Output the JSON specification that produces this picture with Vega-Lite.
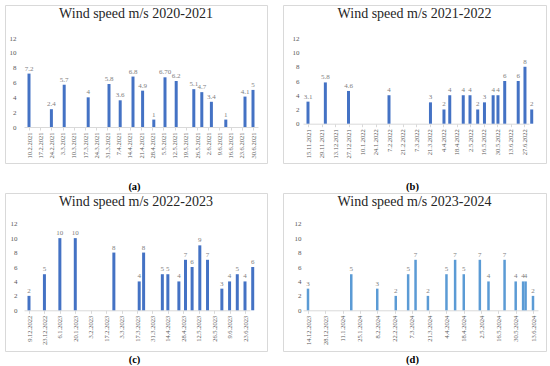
{
  "$schema": "https://vega.github.io/schema/vega-lite/v6.json",
  "padding": {"left": 4, "top": 4, "right": 0, "bottom": 0},
  "background": "white",
  "datasets": {
    "a": [
      {"date": "2021-02-10", "v": 7.2, "label": "7.2"},
      {"date": "2021-02-24", "v": 2.4, "label": "2.4"},
      {"date": "2021-03-04", "v": 5.7, "label": "5.7"},
      {"date": "2021-03-19", "v": 4, "label": "4"},
      {"date": "2021-04-01", "v": 5.8, "label": "5.8"},
      {"date": "2021-04-08", "v": 3.6, "label": "3.6"},
      {"date": "2021-04-16", "v": 6.8, "label": "6.8"},
      {"date": "2021-04-22", "v": 4.9, "label": "4.9"},
      {"date": "2021-04-29", "v": 1, "label": "1"},
      {"date": "2021-05-06", "v": 6.7, "label": "6.70"},
      {"date": "2021-05-13", "v": 6.2, "label": "6.2"},
      {"date": "2021-05-24", "v": 5.1, "label": "5.1"},
      {"date": "2021-05-29", "v": 4.7, "label": "4.7"},
      {"date": "2021-06-04", "v": 3.4, "label": "3.4"},
      {"date": "2021-06-13", "v": 1, "label": "1"},
      {"date": "2021-06-25", "v": 4.1, "label": "4.1"},
      {"date": "2021-06-30", "v": 5, "label": "5"}
    ],
    "b": [
      {"date": "2021-11-15", "v": 3.1, "label": "3.1"},
      {"date": "2021-12-03", "v": 5.8, "label": "5.8"},
      {"date": "2021-12-27", "v": 4.6, "label": "4.6"},
      {"date": "2022-02-07", "v": 4, "label": "4"},
      {"date": "2022-03-22", "v": 3, "label": "3"},
      {"date": "2022-04-05", "v": 2, "label": "2"},
      {"date": "2022-04-11", "v": 4, "label": "4"},
      {"date": "2022-04-25", "v": 4, "label": "4"},
      {"date": "2022-05-02", "v": 4, "label": "4"},
      {"date": "2022-05-10", "v": 2, "label": "2"},
      {"date": "2022-05-17", "v": 3, "label": "3"},
      {"date": "2022-05-26", "v": 4, "label": "4"},
      {"date": "2022-05-31", "v": 4, "label": "4"},
      {"date": "2022-06-07", "v": 6, "label": "6"},
      {"date": "2022-06-21", "v": 6, "label": "6"},
      {"date": "2022-06-28", "v": 8, "label": "8"},
      {"date": "2022-07-05", "v": 2, "label": "2"}
    ],
    "c": [
      {"date": "2022-12-09", "v": 2, "label": "2"},
      {"date": "2022-12-23", "v": 5, "label": "5"},
      {"date": "2023-01-06", "v": 10, "label": "10"},
      {"date": "2023-01-20", "v": 10, "label": "10"},
      {"date": "2023-02-24", "v": 8, "label": "8"},
      {"date": "2023-03-19", "v": 4, "label": "4"},
      {"date": "2023-03-23", "v": 8, "label": "8"},
      {"date": "2023-04-09", "v": 5, "label": "5"},
      {"date": "2023-04-14", "v": 5, "label": "5"},
      {"date": "2023-04-24", "v": 4, "label": "4"},
      {"date": "2023-04-30", "v": 7, "label": "7"},
      {"date": "2023-05-06", "v": 6, "label": "6"},
      {"date": "2023-05-13", "v": 9, "label": "9"},
      {"date": "2023-05-20", "v": 7, "label": "7"},
      {"date": "2023-06-02", "v": 3, "label": "3"},
      {"date": "2023-06-09", "v": 4, "label": "4"},
      {"date": "2023-06-16", "v": 5, "label": "5"},
      {"date": "2023-06-23", "v": 4, "label": "4"},
      {"date": "2023-06-30", "v": 6, "label": "6"}
    ],
    "d": [
      {"date": "2023-12-14", "v": 3, "label": "3"},
      {"date": "2024-01-18", "v": 5, "label": "5"},
      {"date": "2024-02-08", "v": 3, "label": "3"},
      {"date": "2024-02-23", "v": 2, "label": "2"},
      {"date": "2024-03-04", "v": 5, "label": "5"},
      {"date": "2024-03-10", "v": 7, "label": "7"},
      {"date": "2024-03-20", "v": 2, "label": "2"},
      {"date": "2024-04-04", "v": 5, "label": "5"},
      {"date": "2024-04-11", "v": 7, "label": "7"},
      {"date": "2024-04-18", "v": 5, "label": "5"},
      {"date": "2024-05-01", "v": 7, "label": "7"},
      {"date": "2024-05-08", "v": 4, "label": "4"},
      {"date": "2024-05-21", "v": 7, "label": "7"},
      {"date": "2024-05-30", "v": 4, "label": "4"},
      {"date": "2024-06-05", "v": 4, "label": "4"},
      {"date": "2024-06-07", "v": 4, "label": "4"},
      {"date": "2024-06-13", "v": 2, "label": "2"}
    ]
  },
  "bounds": "flush",
  "columns": 2,
  "spacing": {"row": 30, "column": 16},
  "concat": [
    {
      "width": 262, "height": 158,
      "data": {"name": "a"},
      "title": {"text": "Wind speed m/s 2020-2021"},
      "encoding": {
        "x": {"field": "date", "type": "temporal",
          "scale": {"type": "utc",
            "domain": [{"year": 2021, "month": 2, "date": 10, "utc": true}, {"year": 2021, "month": 6, "date": 30, "utc": true}],
            "range": [19, 253]},
          "axis": {
            "values": [
              {"year": 2021, "month": 2, "date": 10, "utc": true},
              {"year": 2021, "month": 2, "date": 17, "utc": true},
              {"year": 2021, "month": 2, "date": 24, "utc": true},
              {"year": 2021, "month": 3, "date": 3, "utc": true},
              {"year": 2021, "month": 3, "date": 10, "utc": true},
              {"year": 2021, "month": 3, "date": 17, "utc": true},
              {"year": 2021, "month": 3, "date": 24, "utc": true},
              {"year": 2021, "month": 3, "date": 31, "utc": true},
              {"year": 2021, "month": 4, "date": 7, "utc": true},
              {"year": 2021, "month": 4, "date": 14, "utc": true},
              {"year": 2021, "month": 4, "date": 21, "utc": true},
              {"year": 2021, "month": 4, "date": 28, "utc": true},
              {"year": 2021, "month": 5, "date": 5, "utc": true},
              {"year": 2021, "month": 5, "date": 12, "utc": true},
              {"year": 2021, "month": 5, "date": 19, "utc": true},
              {"year": 2021, "month": 5, "date": 26, "utc": true},
              {"year": 2021, "month": 6, "date": 2, "utc": true},
              {"year": 2021, "month": 6, "date": 9, "utc": true},
              {"year": 2021, "month": 6, "date": 16, "utc": true},
              {"year": 2021, "month": 6, "date": 23, "utc": true},
              {"year": 2021, "month": 6, "date": 30, "utc": true}
            ],
            "offset": -36, "title": "(a)", "titleX": 129, "titleY": 59
          }
        },
        "y": {"field": "v", "type": "quantitative",
          "scale": {"domain": [0, 12], "range": [122, 33]},
          "axis": {"offset": -14}
        }
      },
      "layer": [
        {"mark": {"type": "bar", "size": 3, "color": "#4472C4"}},
        {"mark": {"type": "text", "baseline": "bottom", "dy": -2}, "encoding": {"text": {"field": "label"}}}
      ]
    },
    {
      "width": 263, "height": 158,
      "data": {"name": "b"},
      "title": {"text": "Wind speed m/s 2021-2022"},
      "encoding": {
        "x": {"field": "date", "type": "temporal",
          "scale": {"type": "utc",
            "domain": [{"year": 2021, "month": 11, "date": 15, "utc": true}, {"year": 2022, "month": 6, "date": 27, "utc": true}],
            "range": [20, 246]},
          "axis": {
            "values": [
              {"year": 2021, "month": 11, "date": 15, "utc": true},
              {"year": 2021, "month": 11, "date": 29, "utc": true},
              {"year": 2021, "month": 12, "date": 13, "utc": true},
              {"year": 2021, "month": 12, "date": 27, "utc": true},
              {"year": 2022, "month": 1, "date": 10, "utc": true},
              {"year": 2022, "month": 1, "date": 24, "utc": true},
              {"year": 2022, "month": 2, "date": 7, "utc": true},
              {"year": 2022, "month": 2, "date": 21, "utc": true},
              {"year": 2022, "month": 3, "date": 7, "utc": true},
              {"year": 2022, "month": 3, "date": 21, "utc": true},
              {"year": 2022, "month": 4, "date": 4, "utc": true},
              {"year": 2022, "month": 4, "date": 18, "utc": true},
              {"year": 2022, "month": 5, "date": 2, "utc": true},
              {"year": 2022, "month": 5, "date": 16, "utc": true},
              {"year": 2022, "month": 5, "date": 30, "utc": true},
              {"year": 2022, "month": 6, "date": 13, "utc": true},
              {"year": 2022, "month": 6, "date": 27, "utc": true}
            ],
            "offset": -39.3, "title": "(b)", "titleX": 129, "titleY": 62.3
          }
        },
        "y": {"field": "v", "type": "quantitative",
          "scale": {"domain": [0, 12], "range": [118.7, 33.3]},
          "axis": {"offset": -19}
        }
      },
      "layer": [
        {"mark": {"type": "bar", "size": 3, "color": "#4472C4"}},
        {"mark": {"type": "text", "baseline": "bottom", "dy": -2}, "encoding": {"text": {"field": "label"}}}
      ]
    },
    {
      "width": 262, "height": 158,
      "data": {"name": "c"},
      "title": {"text": "Wind speed m/s 2022-2023"},
      "encoding": {
        "x": {"field": "date", "type": "temporal",
          "scale": {"type": "utc",
            "domain": [{"year": 2022, "month": 12, "date": 9, "utc": true}, {"year": 2023, "month": 6, "date": 23, "utc": true}],
            "range": [19, 245]},
          "axis": {
            "values": [
              {"year": 2022, "month": 12, "date": 9, "utc": true},
              {"year": 2022, "month": 12, "date": 23, "utc": true},
              {"year": 2023, "month": 1, "date": 6, "utc": true},
              {"year": 2023, "month": 1, "date": 20, "utc": true},
              {"year": 2023, "month": 2, "date": 3, "utc": true},
              {"year": 2023, "month": 2, "date": 17, "utc": true},
              {"year": 2023, "month": 3, "date": 3, "utc": true},
              {"year": 2023, "month": 3, "date": 17, "utc": true},
              {"year": 2023, "month": 3, "date": 31, "utc": true},
              {"year": 2023, "month": 4, "date": 14, "utc": true},
              {"year": 2023, "month": 4, "date": 28, "utc": true},
              {"year": 2023, "month": 5, "date": 12, "utc": true},
              {"year": 2023, "month": 5, "date": 26, "utc": true},
              {"year": 2023, "month": 6, "date": 9, "utc": true},
              {"year": 2023, "month": 6, "date": 23, "utc": true}
            ],
            "offset": -40.7, "title": "(c)", "titleX": 129, "titleY": 48.7
          }
        },
        "y": {"field": "v", "type": "quantitative",
          "scale": {"domain": [0, 12], "range": [117.3, 30.7]},
          "axis": {"offset": -15}
        }
      },
      "layer": [
        {"mark": {"type": "bar", "size": 3, "color": "#4472C4"}},
        {"mark": {"type": "text", "baseline": "bottom", "dy": -2}, "encoding": {"text": {"field": "label"}}}
      ]
    },
    {
      "width": 263, "height": 158,
      "data": {"name": "d"},
      "title": {"text": "Wind speed m/s 2023-2024"},
      "encoding": {
        "x": {"field": "date", "type": "temporal",
          "scale": {"type": "utc",
            "domain": [{"year": 2023, "month": 12, "date": 14, "utc": true}, {"year": 2024, "month": 6, "date": 13, "utc": true}],
            "range": [20, 255]},
          "axis": {
            "values": [
              {"year": 2023, "month": 12, "date": 14, "utc": true},
              {"year": 2023, "month": 12, "date": 28, "utc": true},
              {"year": 2024, "month": 1, "date": 11, "utc": true},
              {"year": 2024, "month": 1, "date": 25, "utc": true},
              {"year": 2024, "month": 2, "date": 8, "utc": true},
              {"year": 2024, "month": 2, "date": 22, "utc": true},
              {"year": 2024, "month": 3, "date": 7, "utc": true},
              {"year": 2024, "month": 3, "date": 21, "utc": true},
              {"year": 2024, "month": 4, "date": 4, "utc": true},
              {"year": 2024, "month": 4, "date": 18, "utc": true},
              {"year": 2024, "month": 5, "date": 2, "utc": true},
              {"year": 2024, "month": 5, "date": 16, "utc": true},
              {"year": 2024, "month": 5, "date": 30, "utc": true},
              {"year": 2024, "month": 6, "date": 13, "utc": true}
            ],
            "offset": -40.7, "title": "(d)", "titleX": 129, "titleY": 48.7
          }
        },
        "y": {"field": "v", "type": "quantitative",
          "scale": {"domain": [0, 12], "range": [117.3, 30.7]},
          "axis": {"offset": -21}
        }
      },
      "layer": [
        {"mark": {"type": "bar", "size": 2.5, "color": "#5B9BD5"}},
        {"mark": {"type": "text", "baseline": "bottom", "dy": -2}, "encoding": {"text": {"field": "label"}}}
      ]
    }
  ],
  "config": {
    "font": "Liberation Serif",
    "view": {"stroke": "#d9d9d9", "strokeWidth": 1},
    "title": {"font": "Liberation Serif", "fontSize": 14, "fontWeight": "normal", "color": "#262626", "anchor": "middle", "frame": "group", "offset": -16, "baseline": "middle"},
    "text": {"font": "Liberation Serif", "fontSize": 7, "color": "#808080"},
    "axisX": {
      "grid": false, "format": "%-d.%-m.%Y", "formatType": "utc",
      "labelAngle": 270, "labelFont": "Liberation Serif", "labelFontSize": 6.5, "labelColor": "#595959",
      "labelOverlap": false, "labelFlush": false, "labelBound": false, "labelPadding": 2,
      "tickSize": 3, "tickColor": "#d9d9d9", "domainColor": "#d9d9d9",
      "titleFont": "Liberation Serif", "titleFontSize": 10.5, "titleFontWeight": "bold", "titleColor": "#000000", "titleBaseline": "middle", "titleAngle": 0, "titleAlign": "center"
    },
    "axisY": {
      "grid": false, "domain": false, "ticks": false, "title": null,
      "values": [0, 2, 4, 6, 8, 10, 12],
      "labelFont": "Liberation Serif", "labelFontSize": 7, "labelColor": "#595959", "labelPadding": 3
    }
  }
}
